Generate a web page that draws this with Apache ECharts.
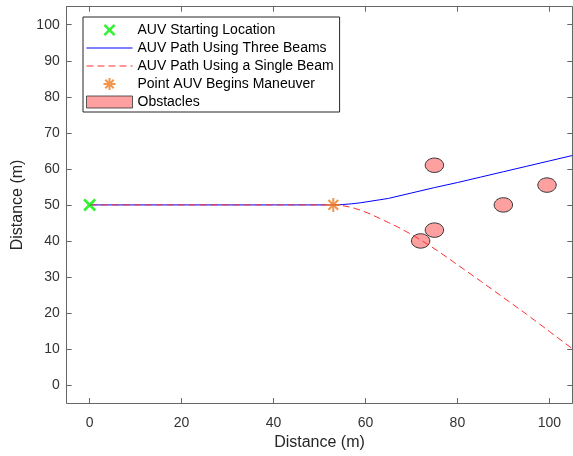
<!DOCTYPE html>
<html>
<head>
<meta charset="utf-8">
<script src="https://cdn.jsdelivr.net/npm/echarts@6/dist/echarts.min.js"></script>
<style>
html,body{margin:0;padding:0;background:#fff;}
#chart{width:573px;height:456px;}
</style>
</head>
<body>
<div id="chart"></div>
<script>
// ---- data ----
var startX = [0];
var startY = [50];
var maneuverX = [53];
var maneuverY = [50];
var threeBeamX = [0, 53, 55, 57, 59, 61, 63, 65, 70, 75, 80, 85, 90, 95, 100, 105];
var threeBeamY = [50, 50, 50.1, 50.3, 50.6, 51.0, 51.4, 51.8, 53.3, 54.8, 56.2, 57.7, 59.2, 60.7, 62.2, 63.7];
var singleBeamX = [0, 53, 55, 57, 59, 61, 63, 65, 67, 70, 73, 76, 80, 85, 90, 95, 100, 105];
var singleBeamY = [50, 50, 49.8, 49.3, 48.5, 47.5, 46.3, 45.1, 43.9, 41.8, 39.5, 37, 33.4, 28.9, 24.3, 19.7, 14.9, 10.1];
var obstacleX = [75, 90, 99.5, 75, 72];
var obstacleY = [61, 50, 55.5, 43, 40];
var obstacleR = [2, 2, 2, 2, 2];
var xTicks = [0, 20, 40, 60, 80, 100];
var yTicks = [0, 10, 20, 30, 40, 50, 60, 70, 80, 90, 100];
var names = ['AUV Starting Location', 'AUV Path Using Three Beams', 'AUV Path Using a Single Beam', 'Point AUV Begins Maneuver', 'Obstacles'];

function zip(a, b, c) {
  return a.map(function (v, i) { return c ? [v, b[i], c[i]] : [v, b[i]]; });
}

var FONT = '"Liberation Sans", Arial, Helvetica, sans-serif';
var AX = '#262626';

var chart = echarts.init(document.getElementById('chart'), null, {renderer: 'canvas'});

function makeAxis(ticks, extra) {
  var a = {
    type: 'value', min: -5, max: 105,
    axisLine: {show: true, onZero: false, lineStyle: {color: '#666', width: 1}},
    axisTick: {show: true, inside: true, length: 5, lineStyle: {color: '#666'}, customValues: ticks},
    axisLabel: {show: true, fontSize: 14, color: '#333', fontFamily: FONT, customValues: ticks},
    splitLine: {show: false}
  };
  for (var k in extra) {
    if (k === 'axisLabel') { Object.assign(a.axisLabel, extra[k]); }
    else { a[k] = extra[k]; }
  }
  return a;
}

var option = {
  animation: false,
  backgroundColor: '#fff',
  textStyle: {fontFamily: FONT},
  grid: {left: 66.7, right: 0.7, top: 6.7, bottom: 49.3, containLabel: false},
  xAxis: [
    makeAxis(xTicks, {
      position: 'bottom',
      name: 'Distance (m)', nameLocation: 'middle', nameGap: 31,
      nameTextStyle: {fontSize: 16, color: AX, fontFamily: FONT},
      axisLabel: {margin: 13}
    }),
    makeAxis(xTicks, {position: 'top', axisLabel: {show: false}})
  ],
  yAxis: [
    makeAxis(yTicks, {
      position: 'left',
      name: 'Distance (m)', nameLocation: 'middle', nameGap: 39,
      nameTextStyle: {fontSize: 16, color: AX, fontFamily: FONT},
      axisLabel: {margin: 7}
    }),
    makeAxis(yTicks, {position: 'right', axisLabel: {show: false}})
  ],
  legend: {
    orient: 'vertical',
    left: 83, top: 17,
    padding: [6, 6, 3, 3],
    itemWidth: 46, itemHeight: 12, itemGap: 4,
    backgroundColor: '#fff',
    borderColor: AX, borderWidth: 1, borderRadius: 0,
    textStyle: {fontSize: 14, color: '#000', fontFamily: FONT, lineHeight: 14},
    data: [
      {name: names[0]},
      {name: names[1], itemStyle: {opacity: 0}, lineStyle: {width: 1}},
      {name: names[2], itemStyle: {opacity: 0}, lineStyle: {width: 1}},
      {name: names[3]},
      {name: names[4], icon: 'rect', itemStyle: {borderWidth: 0.8, borderColor: '#333'}}
    ]
  },
  series: [
    {
      name: names[4],
      type: 'custom',
      coordinateSystem: 'cartesian2d',
      xAxisIndex: 0, yAxisIndex: 0,
      itemStyle: {color: '#FFA0A0', borderColor: '#333', borderWidth: 0.8},
      data: zip(obstacleX, obstacleY, obstacleR),
      encode: {x: 0, y: 1},
      renderItem: function (params, api) {
        var c = api.coord([api.value(0), api.value(1)]);
        var s = api.size([api.value(2), api.value(2)]);
        return {
          type: 'ellipse',
          shape: {cx: c[0], cy: c[1], rx: s[0], ry: s[1]},
          style: {fill: '#FFA0A0', stroke: '#333', lineWidth: 1}
        };
      },
      z: 2
    },
    {
      name: names[1],
      type: 'line',
      data: zip(threeBeamX, threeBeamY),
      symbol: 'none', showSymbol: false,
      lineStyle: {color: '#0000FF', width: 1},
      itemStyle: {color: '#0000FF'},
      z: 3
    },
    {
      name: names[2],
      type: 'line',
      data: zip(singleBeamX, singleBeamY),
      symbol: 'none', showSymbol: false,
      lineStyle: {color: '#FF3030', width: 1, type: [7, 4]},
      itemStyle: {color: '#FF3030'},
      z: 4
    },
    {
      name: names[0],
      type: 'scatter',
      data: zip(startX, startY),
      symbol: 'path://M0,1.5L1.5,0L5,3.5L8.5,0L10,1.5L6.5,5L10,8.5L8.5,10L5,6.5L1.5,10L0,8.5L3.5,5Z',
      symbolSize: 13,
      itemStyle: {color: '#00EE00'},
      z: 5
    },
    {
      name: names[3],
      type: 'scatter',
      data: zip(maneuverX, maneuverY),
      symbol: 'path://M5,0L5,10M0,5L10,5M1.5,1.5L8.5,8.5M8.5,1.5L1.5,8.5',
      symbolSize: 14,
      itemStyle: {color: 'rgba(0,0,0,0)', borderColor: '#F07A20', borderWidth: 2},
      z: 6
    }
  ]
};
chart.setOption(option);
</script>
</body>
</html>
